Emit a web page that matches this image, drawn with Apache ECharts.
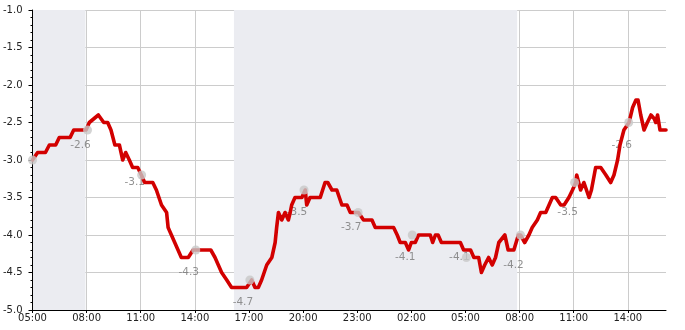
<!DOCTYPE html>
<html><head><meta charset="utf-8">
<script src="https://cdn.jsdelivr.net/npm/echarts@6/dist/echarts.min.js"></script>
<style>html,body{margin:0;padding:0;background:#fff}#c{width:685px;height:330px}</style>
</head><body><div id="c"></div>
<script>
// Measured series (clock times across two days, values)
const times = ["05:00","05:17","05:43","05:56","06:17","06:29","07:05","07:17","07:58","08:09","08:39","08:57","09:10","09:21","09:34","09:49","10:00","10:10","10:22","10:33","10:50","11:02","11:13","11:23","11:40","11:52","12:09","12:26","12:31","12:42","12:53","13:04","13:15","13:38","13:54","14:53","15:07","15:18","15:29","15:46","16:02","16:52","17:09","17:20","17:31","17:42","17:59","18:16","18:27","18:32","18:38","18:49","19:00","19:11","19:17","19:22","19:33","19:56","20:07","20:12","20:23","20:57","21:13","21:22","21:36","21:52","22:09","22:26","22:37","22:48","23:04","23:21","23:49","00:00","01:01","01:13","01:23","01:40","01:51","02:00","02:13","02:24","03:03","03:11","03:20","03:29","03:40","04:43","04:54","05:05","05:17","05:28","05:44","05:53","06:04","06:17","06:29","06:40","06:51","07:11","07:22","07:41","07:56","08:03","08:17","08:31","08:42","08:59","09:10","09:27","09:38","09:49","10:00","10:17","10:28","10:44","10:56","11:07","11:10","11:23","11:34","11:51","11:59","12:13","12:30","12:47","13:03","13:14","13:26","13:34","13:47","14:04","14:16","14:27","14:34","14:43","14:54","15:05","15:17","15:28","15:33","15:39","15:47","16:07"];
const temps = [-3.0,-2.9,-2.9,-2.8,-2.8,-2.7,-2.7,-2.6,-2.6,-2.5,-2.4,-2.5,-2.5,-2.6,-2.8,-2.8,-3.0,-2.9,-3.0,-3.1,-3.1,-3.2,-3.3,-3.3,-3.3,-3.4,-3.6,-3.7,-3.9,-4.0,-4.1,-4.2,-4.3,-4.3,-4.2,-4.2,-4.3,-4.4,-4.5,-4.6,-4.7,-4.7,-4.6,-4.7,-4.7,-4.6,-4.4,-4.3,-4.1,-3.9,-3.7,-3.8,-3.7,-3.8,-3.7,-3.6,-3.5,-3.5,-3.4,-3.6,-3.5,-3.5,-3.3,-3.3,-3.4,-3.4,-3.6,-3.6,-3.7,-3.7,-3.7,-3.8,-3.8,-3.9,-3.9,-4.0,-4.1,-4.1,-4.2,-4.1,-4.1,-4.0,-4.0,-4.1,-4.0,-4.0,-4.1,-4.1,-4.2,-4.2,-4.2,-4.3,-4.3,-4.5,-4.4,-4.3,-4.4,-4.3,-4.1,-4.0,-4.2,-4.2,-4.0,-4.0,-4.1,-4.0,-3.9,-3.8,-3.7,-3.7,-3.6,-3.5,-3.5,-3.6,-3.6,-3.5,-3.4,-3.3,-3.2,-3.4,-3.3,-3.5,-3.4,-3.1,-3.1,-3.2,-3.3,-3.2,-3.0,-2.8,-2.6,-2.5,-2.3,-2.2,-2.2,-2.4,-2.6,-2.5,-2.4,-2.45,-2.5,-2.4,-2.6,-2.6];

// 3-hourly markers
const markerTimes = ["05:00","08:03","11:03","14:03","17:03","20:03","23:03","02:03","05:03","08:03","11:03","14:03"];
const markerTemps = [-3.0,-2.6,-3.2,-4.2,-4.6,-3.4,-3.7,-4.0,-4.3,-4.0,-3.3,-2.5];
const markerLabels = [null,-2.6,-3.1,-4.3,-4.7,-3.5,-3.7,-4.1,-4.1,-4.2,-3.5,-2.6];

// shaded periods
const shadeStart = ["05:00","16:10"];
const shadeStartDay = [0,0];
const shadeEnd = ["07:56","07:52"];
const shadeEndDay = [0,1];

const axisStartHour = 5;      // 05:00
const axisEnd = "16:07";      // day 2
const axisEndDay = 1;
const yMin = -5, yMax = -1, yStep = 0.5;

function hm(s){const p=s.split(':').map(Number);return p[0]+p[1]/60;}
function toX(ts){let day=0,prev=-1;return ts.map(s=>{const v=hm(s);if(v<prev)day++;prev=v;return day*24+v-axisStartHour;});}
function toXd(s,d){return d*24+hm(s)-axisStartHour;}

const xs = toX(times);
const mx = toX(markerTimes);
const lineData = xs.map((x,i)=>[x,temps[i]]);
const dotData = mx.map((x,i)=>[x,markerTemps[i]]);
const labelData = [];
mx.forEach((x,i)=>{ if(markerLabels[i]!==null) labelData.push({value:[x,markerLabels[i]], txt:markerLabels[i].toFixed(1)}); });
const areas = shadeStart.map((s,i)=>[{xAxis:toXd(s,shadeStartDay[i])},{xAxis:toXd(shadeEnd[i],shadeEndDay[i])}]);
const xMax = toXd(axisEnd,axisEndDay);

function pad(n){return (n<10?'0':'')+n;}
const font = 'DejaVu Sans';

const chart = echarts.init(document.getElementById('c'),null,{renderer:'canvas'});
chart.setOption({
  animation:false,
  backgroundColor:'#fff',
  grid:{left:32,right:19,top:10,bottom:20,containLabel:false},
  xAxis:{type:'value',min:0,max:xMax,interval:3,z:1,
    axisLine:{onZero:false,lineStyle:{color:'#000',width:1}},
    axisTick:{show:true,length:3,lineStyle:{color:'#000'}},
    axisLabel:{fontFamily:font,fontSize:10,color:'#222',margin:3,showMaxLabel:false,
      formatter:v=>{ if(Math.abs(v/3-Math.round(v/3))>1e-6) return ''; const h=Math.round(v+axisStartHour)%24; return pad(h)+':00'; }},
    splitLine:{show:true,showMaxLine:false,showMinLine:false,lineStyle:{color:'#cccccc',width:1}}
  },
  yAxis:{type:'value',min:yMin,max:yMax,interval:yStep,z:1,
    axisLine:{show:true,onZero:false,lineStyle:{color:'#000',width:1}},
    axisTick:{show:true,length:4,lineStyle:{color:'#000'}},
    minorTick:{show:true,splitNumber:5,length:2,lineStyle:{color:'#000'}},
    axisLabel:{fontFamily:font,fontSize:10,color:'#222',margin:10,formatter:v=>v.toFixed(1)},
    splitLine:{show:true,lineStyle:{color:'#cccccc',width:1}}
  },
  series:[
    {type:'line',data:[],z:0,silent:true,
      markArea:{silent:true,itemStyle:{color:'#ebecf1'},data:areas}},
    {type:'scatter',data:labelData,z:2,symbolSize:1,itemStyle:{color:'rgba(0,0,0,0)'},silent:true,
      label:{show:true,position:'bottom',distance:9,offset:[-7,0],fontFamily:font,fontSize:10.5,color:'#777',
        formatter:p=>p.data.txt}},
    {type:'line',data:lineData,z:3,showSymbol:false,silent:true,
      lineStyle:{color:'#d20000',width:3.6,cap:'round',join:'round'}},
    {type:'scatter',data:dotData,z:4,symbolSize:9,silent:true,itemStyle:{color:'#c8c8c8'}}
  ]
});
</script>
</body></html>
